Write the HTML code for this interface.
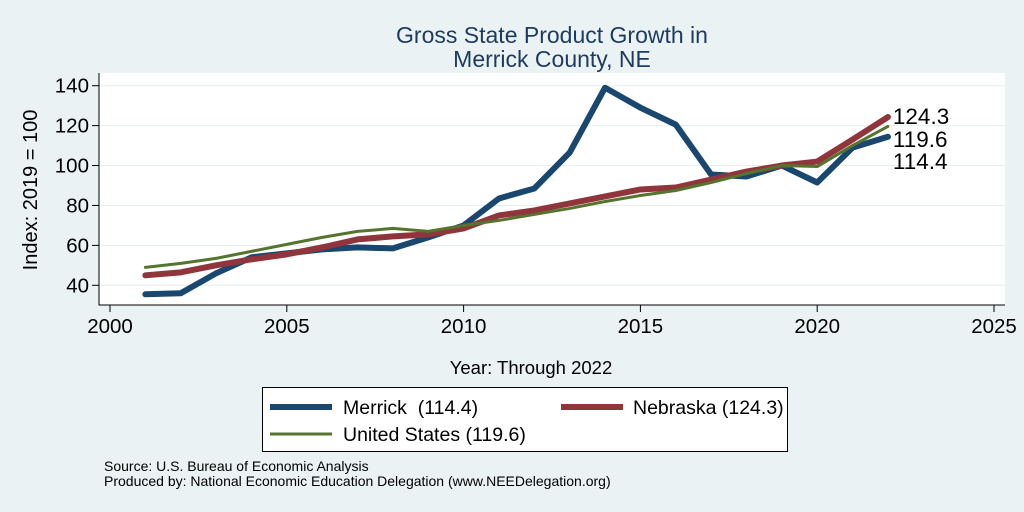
<!DOCTYPE html>
<html><head><meta charset="utf-8"><style>
body{margin:0;background:#eaf2f3;}
svg{display:block;font-family:"Liberation Sans",sans-serif;}
</style></head><body>
<svg width="1024" height="512">
<rect x="0" y="0" width="1024" height="512" fill="#eaf2f3"/>
<text x="552" y="43" font-size="23" fill="#1e3a5f" text-anchor="middle">Gross State Product Growth in</text>
<text x="552" y="67" font-size="23" fill="#1e3a5f" text-anchor="middle">Merrick County, NE</text>
<rect x="99" y="73" width="906" height="232" fill="#fff"/>
<g id="grid"></g><g id="axes"></g><g id="lines"></g>
<text x="37" y="190" font-size="20" text-anchor="middle" transform="rotate(-90 37 190)">Index: 2019 = 100</text>
<text x="531" y="374" font-size="18.5" text-anchor="middle">Year: Through 2022</text>
<g>
<rect x="262.5" y="387.5" width="525" height="64" fill="#fff" stroke="#000" stroke-width="1"/>
<line x1="270" y1="407" x2="332" y2="407" stroke="#1a476f" stroke-width="6"/>
<text x="343" y="414" font-size="19.5">Merrick&#160; (114.4)</text>
<line x1="561" y1="407" x2="623" y2="407" stroke="#90353b" stroke-width="6"/>
<text x="633" y="414" font-size="19.5">Nebraska (124.3)</text>
<line x1="270" y1="434" x2="332" y2="434" stroke="#55752f" stroke-width="3"/>
<text x="343" y="441" font-size="19.5">United States (119.6)</text>
</g>
<text x="104" y="471" font-size="14">Source: U.S. Bureau of Economic Analysis</text>
<text x="104" y="486" font-size="14">Produced by: National Economic Education Delegation (www.NEEDelegation.org)</text>
</svg>
<script>
const years=[2001,2002,2003,2004,2005,2006,2007,2008,2009,2010,2011,2012,2013,2014,2015,2016,2017,2018,2019,2020,2021,2022];
const merrick=[35.5,36,46,54,56,58,59,58.5,64,70,83.5,88.5,106.5,139,129,120.5,95.5,94.5,100,91.5,109,114.4];
const nebraska=[45,46.5,50,53,55.5,59,63,64.5,65.5,68.5,75,77.5,81,84.5,88,89,93,97,100,102,113,124.3];
const us=[49,51,53.5,57,60.5,64,67,68.5,67,70,72.5,75.5,78.5,82,85,87.5,91.5,96,100,99.5,110,119.6];
const yTicks=[40,60,80,100,120,140];
const xTicks=[2000,2005,2010,2015,2020,2025];
const endLabels=["124.3","119.6","114.4"];
const NS="http://www.w3.org/2000/svg";
const X=v=>110+(v-2000)*35.36;
const Y=v=>285.3-(v-40)*1.996;
function mk(t,a,p){const e=document.createElementNS(NS,t);for(const k in a)e.setAttribute(k,a[k]);p.appendChild(e);return e;}
const grid=document.getElementById('grid'),axes=document.getElementById('axes'),lines=document.getElementById('lines');
yTicks.forEach(v=>{
 const g=mk('line',{x1:99,x2:1005,y1:Y(v),y2:Y(v),stroke:'#e6eeee','stroke-width':1},grid);
 
 
 const t=mk('line',{x1:92,x2:99,y1:Y(v),y2:Y(v),stroke:'#000'},axes);
 
 
 const l=mk('text',{x:89,y:Y(v)+7,'font-size':20.5,'text-anchor':'end'},axes);l.textContent=v;
 
 
});
xTicks.forEach(v=>{
 const t=mk('line',{x1:X(v),x2:X(v),y1:305,y2:312,stroke:'#000'},axes);
 
 
 const l=mk('text',{x:X(v),y:333,'font-size':20.5,'text-anchor':'middle'},axes);l.textContent=v;
 
 
});
const ya=mk('line',{x1:99,x2:99,y1:73,y2:305.5,stroke:'#000'},axes);


const xa=mk('line',{x1:99,x2:1005,y1:305,y2:305,stroke:'#000'},axes);


function series(vals,color,w,name){
 const p=mk('polyline',{points:vals.map((v,i)=>X(years[i])+','+Y(v)).join(' '),fill:'none',stroke:color,'stroke-width':w,'stroke-linejoin':'round','stroke-linecap':'round'},lines);
 
 
}
series(merrick,'#1a476f',6,'line-merrick');
series(nebraska,'#90353b',6,'line-nebraska');
series(us,'#55752f',3,'line-us');
const lx=X(2022)+5;
[Y(124.3)+1,Y(124.3)+24,Y(124.3)+46].forEach((y,i)=>{
 const t=mk('text',{x:lx,y:y+6,'font-size':22.5},lines);t.textContent=endLabels[i];
 
 
});
</script>
</body></html>
